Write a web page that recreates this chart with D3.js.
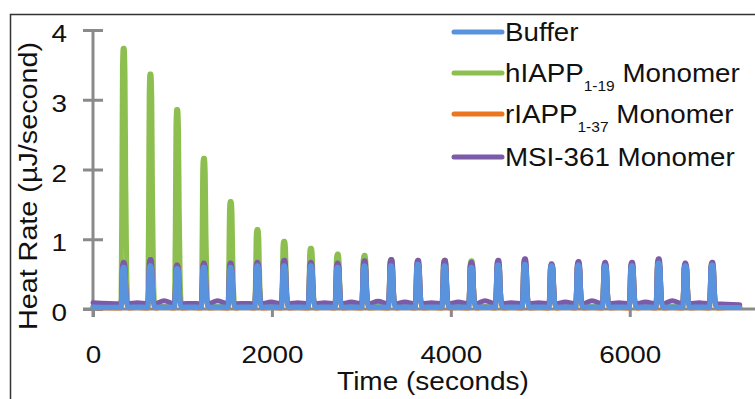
<!DOCTYPE html>
<html>
<head>
<meta charset="utf-8">
<script src="https://cdn.jsdelivr.net/npm/d3@7"></script>
<style>
  html, body { margin: 0; padding: 0; background: #ffffff; }
  svg { display: block; }
  text { font-family: "Liberation Sans", Arial, Helvetica, sans-serif; fill: #111; }
</style>
</head>
<body>
<svg id="chart" width="755" height="399"></svg>
<script>
// ---- data ----
const injectionTimes = [345, 644, 943, 1242, 1541, 1840, 2139, 2438, 2737, 3036, 3335, 3634,
                        3933, 4232, 4531, 4830, 5129, 5428, 5727, 6026, 6325, 6624, 6923];
const endTime = 7230;

const seriesNames = ["Buffer", "hIAPP", "rIAPP", "MSI-361"];
const legendMain = ["Buffer", "hIAPP", "rIAPP", "MSI-361 Monomer"];
const legendSub = ["", "1-19", "1-37", ""];
const legendTail = ["", " Monomer", " Monomer", ""];

// peak heights (µJ/second) per injection
const bufferPeaks = [0.60, 0.62, 0.58, 0.60, 0.60, 0.62, 0.62, 0.62, 0.60, 0.62, 0.62, 0.64,
                     0.62, 0.60, 0.63, 0.64, 0.62, 0.63, 0.62, 0.62, 0.66, 0.62, 0.63];
const hiappPeaks  = [3.74, 3.37, 2.86, 2.16, 1.54, 1.14, 0.97, 0.87, 0.79, 0.77, 0.71, 0.64,
                     0.70, 0.69, 0.63, 0.64, 0.62, 0.63, 0.62, 0.62, 0.64, 0.62, 0.62];
const riappPeaks  = [0.62, 0.64, 0.63, 0.62, 0.62, 0.63, 0.64, 0.63, 0.62, 0.63, 0.64, 0.64,
                     0.63, 0.64, 0.64, 0.65, 0.63, 0.64, 0.64, 0.64, 0.66, 0.63, 0.64];
const msiPeaks    = [0.67, 0.71, 0.63, 0.66, 0.66, 0.67, 0.70, 0.67, 0.66, 0.69, 0.71, 0.70,
                     0.70, 0.67, 0.70, 0.72, 0.65, 0.68, 0.67, 0.67, 0.72, 0.66, 0.67];

// baseline level next to each peak, and level midway between peaks (before first, gaps, after last)
const bufferFloor = 0.025;
const hiappFloor = 0.03;
const riappFloor = 0.015;
const msiFloor = 0.075;
const bufferTroughs = [0.03, 0.03, 0.03, 0.03, 0.03, 0.03, 0.03, 0.03, 0.03, 0.03, 0.03, 0.03,
                       0.03, 0.03, 0.03, 0.03, 0.03, 0.03, 0.03, 0.03, 0.03, 0.03, 0.03, 0.02];
const hiappTroughs  = [0.04, 0.04, 0.04, 0.04, 0.04, 0.04, 0.04, 0.04, 0.04, 0.04, 0.04, 0.04,
                       0.04, 0.04, 0.04, 0.04, 0.04, 0.04, 0.04, 0.04, 0.04, 0.04, 0.04, 0.03];
const riappTroughs  = [0.02, 0.02, 0.03, 0.02, 0.02, 0.03, 0.02, 0.02, 0.03, 0.02, 0.02, 0.03,
                       0.02, 0.02, 0.03, 0.02, 0.02, 0.03, 0.02, 0.02, 0.03, 0.02, 0.02, 0.04];
const msiTroughs    = [0.09, 0.09, 0.12, 0.08, 0.12, 0.08, 0.10, 0.09, 0.09, 0.10, 0.11, 0.10,
                       0.09, 0.10, 0.12, 0.09, 0.09, 0.10, 0.12, 0.09, 0.10, 0.12, 0.09, 0.06];

const yTicks = [0, 1, 2, 3, 4];
const xTicks = [0, 2000, 4000, 6000];
const colors = ["#5a93dd", "#8dbf50", "#ec7522", "#7b5ba7"];

// ---- layout ----
const svg = d3.select("#chart");
const x = d3.scaleLinear().domain([0, 7400]).range([93, 755]);
const y = d3.scaleLinear().domain([0, 4]).range([309, 30]);

// outer frame
svg.append("rect").attr("x", 10.5).attr("y", 14.5).attr("width", 900).attr("height", 600)
  .attr("fill", "none").attr("stroke", "#333").attr("stroke-width", 1.5);

function buildSeries(peaks, floor, troughs) {
  const pts = [[0, troughs[0]]];
  injectionTimes.forEach((t, k) => {
    const h = peaks[k];
    pts.push([t - 32, floor], [t - 22, h * 0.5], [t - 16, h * 0.92], [t - 8, h], [t + 4, h],
             [t + 13, h * 0.9], [t + 21, h * 0.5], [t + 32, h * 0.15], [t + 48, floor]);
    if (k < injectionTimes.length - 1) {
      pts.push([(t + injectionTimes[k + 1]) / 2, troughs[k + 1]]);
    }
  });
  pts.push([endTime, troughs[troughs.length - 1]]);
  return pts;
}

const series = [
  buildSeries(bufferPeaks, bufferFloor, bufferTroughs),
  buildSeries(hiappPeaks, hiappFloor, hiappTroughs),
  buildSeries(riappPeaks, riappFloor, riappTroughs),
  buildSeries(msiPeaks, msiFloor, msiTroughs)
];

// axes
const yAxis = d3.axisLeft(y).tickValues(yTicks).tickSize(10).tickFormat(d3.format("d"));
const gy = svg.append("g").attr("transform", "translate(93,0)").call(yAxis);
gy.select(".domain").remove();
gy.selectAll(".tick line").attr("x1", -10).attr("x2", 10).attr("stroke", "#8a8a8a").attr("stroke-width", 3);
gy.selectAll(".tick text")
  .attr("x", null).attr("dy", null)
  .attr("transform", "translate(-26,11.5) scale(1.16,1)")
  .attr("text-anchor", "end").style("font-size", "24px").attr("fill", "#111");
gy.append("line").attr("x1", 0).attr("x2", 0).attr("y1", y(4)).attr("y2", y(0) + 8)
  .attr("stroke", "#8a8a8a").attr("stroke-width", 3);

const xAxis = d3.axisBottom(x).tickValues(xTicks).tickSize(8).tickFormat(d3.format("d"));
const gx = svg.append("g").attr("transform", `translate(0,${y(0)})`).call(xAxis);
gx.select(".domain").remove();
gx.selectAll(".tick line").attr("stroke", "#8a8a8a").attr("stroke-width", 3);
gx.selectAll(".tick text")
  .attr("y", null).attr("dy", null)
  .attr("transform", "translate(0,54) scale(1.16,1)")
  .attr("text-anchor", "middle").style("font-size", "24px").attr("fill", "#111");
gx.insert("line", ":first-child").attr("x1", 83).attr("x2", 755).attr("y1", 0).attr("y2", 0)
  .attr("stroke", "#8a8a8a").attr("stroke-width", 3);

// series lines (drawn green, orange, purple, blue so buffer is on top)
const line = d3.line().x(d => x(d[0])).y(d => y(d[1])).curve(d3.curveMonotoneX);
[1, 2, 3, 0].forEach(i => {
  svg.append("path").datum(series[i]).attr("d", line)
    .attr("fill", "none").attr("stroke", colors[i]).attr("stroke-width", 5)
    .attr("stroke-linejoin", "round").attr("stroke-linecap", "round");
});

// axis titles
svg.append("text").attr("transform", "translate(433,390) scale(1.12,1)")
  .attr("text-anchor", "middle").style("font-size", "25px").text("Time (seconds)");
svg.append("text").attr("transform", "translate(37,186) rotate(-90) scale(1.15,1)")
  .attr("text-anchor", "middle").style("font-size", "25px").text("Heat Rate (µJ/second)");

// legend
const legendY = [32, 73, 114, 157];
const lg = svg.append("g");
seriesNames.forEach((name, i) => {
  lg.append("line").attr("x1", 454).attr("x2", 502).attr("y1", legendY[i]).attr("y2", legendY[i])
    .attr("stroke", colors[i]).attr("stroke-width", 5).attr("stroke-linecap", "round");
  const t = lg.append("text").attr("transform", `translate(505,${legendY[i] + 9}) scale(1.11,1)`)
    .style("font-size", "25px");
  t.append("tspan").text(legendMain[i]);
  if (legendSub[i]) {
    t.append("tspan").attr("dy", 9).style("font-size", "14px").text(legendSub[i]);
    t.append("tspan").attr("dy", -9).text(legendTail[i]);
  }
});
</script>
</body>
</html>
